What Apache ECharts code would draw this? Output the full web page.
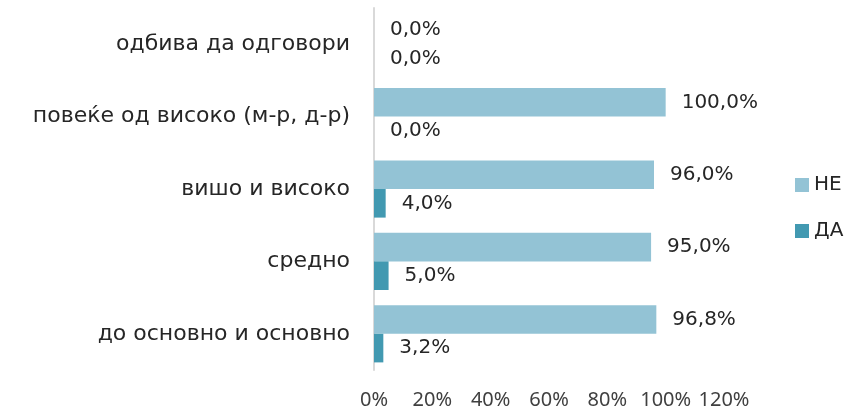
<!DOCTYPE html>
<html>
<head>
<meta charset="utf-8">
<script src="https://cdn.jsdelivr.net/npm/echarts@6/dist/echarts.min.js"></script>
<style>
  html, body { margin: 0; padding: 0; background: #fff; }
  #chart { width: 863px; height: 412px; }
</style>
</head>
<body>
<div id="chart"></div>
<script>
// категории одозгора надолу
const categories = ['одбива да одговори', 'повеќе од високо (м-р, д-р)', 'вишо и високо', 'средно', 'до основно и основно']
const neValues = [0, 100, 96, 95, 96.8]
const daValues = [0, 0, 4, 5, 3.2]
const xTicks = [0, 20, 40, 60, 80, 100, 120]

const fmt = v => v.toFixed(1).replace('.', ',') + '%'
const wideFont = 'DejaVu Sans'

const myChart = echarts.init(document.getElementById('chart'))
const option = {
  textStyle: { fontFamily: wideFont },
  legend: {
    orient: 'vertical',
    left: 790,
    top: 170,
    itemWidth: 14,
    itemHeight: 14,
    itemGap: 26,
    icon: 'rect',
    textStyle: { fontSize: 20, color: '#262626', fontFamily: wideFont },
    data: ['НЕ', 'ДА']
  },
  grid: {
    left: 374,
    right: 139,
    top: 8,
    bottom: 42
  },
  xAxis: {
    type: 'value',
    min: xTicks[0],
    max: xTicks[xTicks.length - 1],
    interval: 20,
    splitLine: { show: false },
    axisLine: { show: false },
    axisTick: { show: false },
    axisLabel: {
      margin: 20,
      fontSize: 20,
      fontFamily: 'Noto Sans',
      color: '#404040',
      formatter: v => v + '%'
    }
  },
  yAxis: {
    type: 'category',
    inverse: true,
    data: categories,
    axisLine: { show: true, lineStyle: { color: '#d9d9d9', width: 2 } },
    axisTick: { show: false },
    axisLabel: { margin: 24, fontSize: 22, color: '#262626', fontFamily: wideFont }
  },
  series: [
    {
      name: 'НЕ',
      type: 'bar',
      data: neValues,
      barGap: '0%',
      barCategoryGap: '21%',
      itemStyle: { color: '#93c3d5' },
      label: {
        show: true,
        position: 'right',
        distance: 16,
        fontSize: 20,
        color: '#262626',
        fontFamily: wideFont,
        formatter: p => fmt(p.value)
      }
    },
    {
      name: 'ДА',
      type: 'bar',
      data: daValues,
      itemStyle: { color: '#4299b1' },
      label: {
        show: true,
        position: 'right',
        distance: 16,
        fontSize: 20,
        color: '#262626',
        fontFamily: wideFont,
        formatter: p => fmt(p.value)
      }
    }
  ]
}
myChart.setOption(option)
</script>
</body>
</html>
